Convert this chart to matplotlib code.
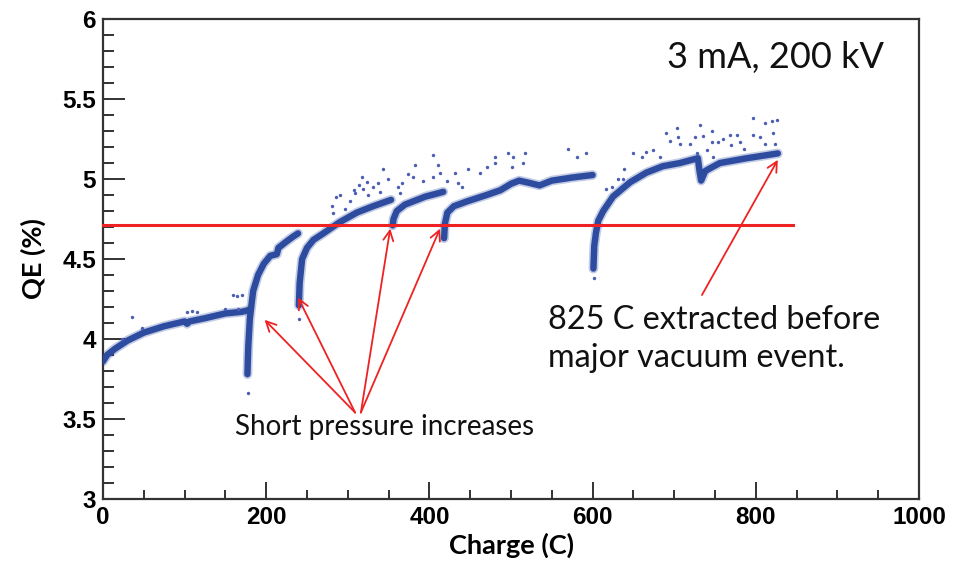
import matplotlib
matplotlib.use("Agg")
import matplotlib.pyplot as plt
from matplotlib.ticker import MultipleLocator

# QE band, one list pair per run between pressure bursts
seg1_x = [0, 5, 15, 30, 50, 75, 100, 103, 106, 125, 150, 170, 178]
seg1_y = [3.86, 3.90, 3.94, 3.99, 4.04, 4.08, 4.11, 4.095, 4.11, 4.13, 4.16, 4.17, 4.18]
seg2_x = [177, 178, 180, 184, 190, 197, 205, 213, 215, 225, 233, 239]
seg2_y = [3.78, 3.95, 4.13, 4.30, 4.40, 4.47, 4.52, 4.53, 4.57, 4.61, 4.64, 4.66]
seg3_x = [240, 241, 244, 250, 258, 270, 290, 311, 331, 353]
seg3_y = [4.21, 4.35, 4.50, 4.57, 4.62, 4.66, 4.73, 4.79, 4.83, 4.87]
seg4_x = [355, 356, 360, 370, 380, 395, 410, 417]
seg4_y = [4.71, 4.75, 4.80, 4.84, 4.86, 4.89, 4.91, 4.92]
seg5_x = [418, 419, 422, 430, 446, 470, 487, 500, 510, 523, 535, 550, 576, 600]
seg5_y = [4.63, 4.72, 4.79, 4.83, 4.86, 4.90, 4.93, 4.97, 4.99, 4.975, 4.96, 4.99, 5.01, 5.025]
seg6_x = [601, 602, 604, 607, 613, 625, 646, 666, 686, 707, 729, 731, 733, 738, 745, 756, 789, 827]
seg6_y = [4.44, 4.58, 4.66, 4.74, 4.80, 4.89, 4.98, 5.04, 5.08, 5.10, 5.13, 5.05, 4.99, 5.05, 5.07, 5.10, 5.13, 5.16]

# scattered points off the band
out_x = [23, 35, 48, 103, 109, 115, 150, 159, 164, 166, 170, 178, 240, 602,
         281, 282, 286, 290, 297, 303, 307, 309, 314, 317, 319, 324, 325, 331, 337, 339, 343, 349,
         361, 364, 366, 374, 380, 382, 392, 405, 405, 411, 413,
         421, 431, 435, 440, 447, 462, 470, 480, 480, 496, 501, 502, 515, 517, 570, 581, 592,
         617, 624, 631, 637, 639, 650, 660, 666, 674, 683, 690, 695, 703, 705, 707, 719, 725,
         728, 732, 735, 740, 746, 746, 748, 754, 760, 768, 770, 777, 781, 785, 797, 797, 805,
         811, 811, 820, 821, 823, 826]
out_y = [4.00, 4.14, 4.07, 4.17, 4.175, 4.17, 4.19, 4.275, 4.27, 4.19, 4.275, 3.66, 4.125, 4.38,
         4.83, 4.79, 4.89, 4.90, 4.81, 4.86, 4.93, 4.91, 4.96, 5.01, 4.94, 4.98, 4.90, 4.95, 4.975, 4.92, 5.06, 5.00,
         4.95, 4.91, 4.975, 5.03, 5.01, 5.09, 4.99, 5.15, 5.01, 5.09, 5.04,
         4.99, 5.04, 4.975, 4.95, 5.06, 5.04, 5.075, 5.14, 5.10, 5.16, 5.075, 5.14, 5.10, 5.16, 5.19, 5.14, 5.16,
         4.94, 4.95, 5.00, 5.00, 5.06, 5.16, 5.14, 5.17, 5.18, 5.14, 5.29, 5.24, 5.32, 5.26, 5.22, 5.22, 5.26,
         5.16, 5.34, 5.27, 5.18, 5.30, 5.23, 5.14, 5.23, 5.25, 5.275, 5.21, 5.275, 5.23, 5.19, 5.38, 5.275, 5.26,
         5.35, 5.22, 5.36, 5.29, 5.22, 5.37]

threshold = 4.71
threshold_end = 845

# arrows from the "Short pressure increases" label
arrow_tail_x = [309, 309, 316, 316]
arrow_head_x = [198, 239, 352, 413]
arrow_head_y = [4.12, 4.26, 4.69, 4.69]
arrow_tail_y = 3.54

fig = plt.figure(figsize=(9.59, 5.68), dpi=100)
ax = fig.add_axes([0.1074, 0.1215, 0.8509, 0.845])

band = '#2d4b9f'
for xs, ys in [(seg1_x, seg1_y), (seg2_x, seg2_y), (seg3_x, seg3_y),
               (seg4_x, seg4_y), (seg5_x, seg5_y), (seg6_x, seg6_y)]:
    ax.plot(xs, ys, color='#3a56a8', lw=7, alpha=0.3, solid_capstyle='round',
            solid_joinstyle='round', zorder=2)
    ax.plot(xs, ys, color=band, lw=4.6, solid_capstyle='round', solid_joinstyle='round', zorder=3)
ax.scatter(out_x, out_y, s=6, color='#4a5fb4', zorder=3, linewidths=0)

ax.plot([0, threshold_end], [threshold, threshold], color='#ee2222', lw=2.2, zorder=4, clip_on=False)

ax.set_xlim(0, 1000)
ax.set_ylim(3, 6)
ax.xaxis.set_major_locator(MultipleLocator(200))
ax.xaxis.set_minor_locator(MultipleLocator(50))
ax.yaxis.set_major_locator(MultipleLocator(0.5))
ax.yaxis.set_minor_locator(MultipleLocator(0.1))
ax.yaxis.set_major_formatter(plt.FuncFormatter(lambda v, p: f"{v:g}"))
ax.tick_params(axis='x', which='major', direction='in', length=12, width=1.3, pad=5, colors='#222222')
ax.tick_params(axis='x', which='minor', direction='in', length=6.5, width=1.3, colors='#222222')
ax.tick_params(axis='y', which='major', direction='in', length=16, width=1.3, pad=5, colors='#222222')
ax.tick_params(axis='y', which='minor', direction='in', length=8, width=1.3, colors='#222222')
for lab in ax.get_xticklabels() + ax.get_yticklabels():
    lab.set_fontfamily('Liberation Sans')
    lab.set_fontweight('bold')
    lab.set_fontsize(17.5)
    lab.set_color('black')
for sp in ax.spines.values():
    sp.set_linewidth(1.6)
    sp.set_color('#333333')

ax.set_xlabel('Charge (C)', fontfamily='Lato', fontweight='bold', fontsize=19.5, labelpad=3)
ax.set_ylabel('QE (%)', fontfamily='Lato', fontweight='bold', fontsize=19.5, labelpad=12)

for tx, hx, hy in zip(arrow_tail_x, arrow_head_x, arrow_head_y):
    ax.annotate('', xy=(hx, hy), xytext=(tx, arrow_tail_y),
                arrowprops=dict(arrowstyle='->', color='#ee2222', lw=1.3,
                                mutation_scale=18, shrinkA=0, shrinkB=0), zorder=5)
ax.annotate('', xy=(827, 5.12), xytext=(734, 4.275),
            arrowprops=dict(arrowstyle='->', color='#ee2222', lw=1.3,
                            mutation_scale=18, shrinkA=0, shrinkB=0), zorder=5)

ax.text(345, 3.45, 'Short pressure increases', fontfamily='Lato', fontsize=20,
        ha='center', va='center', color='#111111')
ax.text(545, 4.0, '825 C extracted before\nmajor vacuum event.', fontfamily='Lato',
        fontsize=23.3, ha='left', va='center', linespacing=1.32, color='#111111')
ax.text(824, 5.76, '3 mA, 200 kV', fontfamily='Lato', fontsize=26,
        ha='center', va='center', color='#111111')

fig.savefig('out.png', dpi=100)
